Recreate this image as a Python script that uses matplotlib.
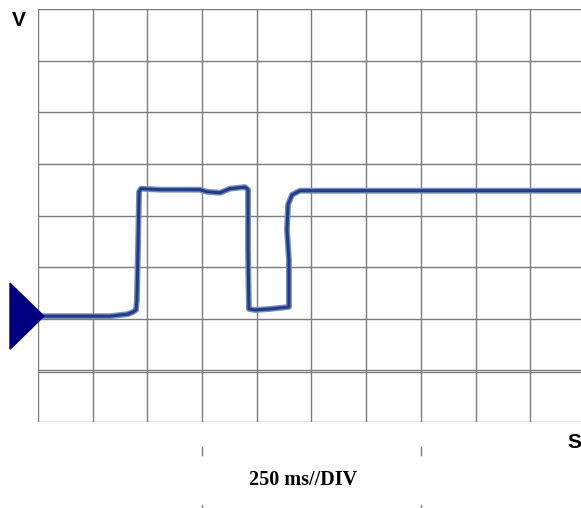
import matplotlib
matplotlib.use('Agg')
import matplotlib.pyplot as plt
from matplotlib.patches import Polygon

# scope trace, time in ms (250 ms per division), level in divisions
t_ms = [18, 169, 329, 411, 434, 448, 452, 457, 462, 471, 558, 672, 740, 772,
        832, 877, 946, 960, 960, 964, 992, 1060, 1106, 1147, 1147, 1138, 1143,
        1161, 1197, 1335, 1883, 2482]
level = [2.05, 2.05, 2.05, 2.09, 2.13, 2.17, 2.36, 3.33, 4.46, 4.52, 4.50,
         4.50, 4.50, 4.46, 4.44, 4.52, 4.55, 4.50, 3.33, 2.19, 2.17, 2.19,
         2.21, 2.23, 3.14, 3.72, 4.21, 4.40, 4.48, 4.48, 4.48, 4.48]

ms_per_div = 250
n_hdiv = 8
x_end = 2482
tick_divs = [3, 7]

fig = plt.figure(figsize=(5.81, 5.08), dpi=100)
ax = fig.add_axes([38/581, 86/508, 543/581, 413/508])
ax.set_xlim(0, x_end)
ax.set_ylim(0, n_hdiv)
ax.axis('off')

grid = '#7c7c7c'
# vertical grid lines
k = 0
while k * ms_per_div <= x_end:
    ax.axvline(k * ms_per_div, color=grid, lw=1.0, zorder=1)
    k += 1
# horizontal grid lines
for j in range(n_hdiv + 1):
    ax.axhline(j, color=grid, lw=1.0, zorder=1)
ax.axhline(0.96, color=grid, lw=1.0, zorder=1)  # doubled line in the scan

# trace: light speckled halo plus dark core
ax.plot(t_ms, level, color='#6f93b8', lw=4.2, solid_joinstyle='round', zorder=3)
ax.plot(t_ms, level, color='#26398a', lw=2.2, solid_joinstyle='round', zorder=4)

# ground reference marker
base = level[0]
tri = Polygon([(-128, base + 0.64), (27, base), (-128, base - 0.64)],
              closed=True, color='#000080', clip_on=False, zorder=5)
ax.add_patch(tri)

# small ticks under the screen
for d in tick_divs:
    ax.plot([d * ms_per_div] * 2, [-0.48, -0.64], color=grid, lw=1, clip_on=False)
    ax.plot([d * ms_per_div] * 2, [-1.6, -1.7], color=grid, lw=1, clip_on=False)

fig.text(19/581, 1 - 20/508, 'V', fontsize=15, fontweight='bold',
         family='Liberation Sans', ha='center', va='center')
fig.text(574/581, 1 - 442/508, 'S', fontsize=15, fontweight='bold',
         family='Liberation Sans', ha='center', va='center')
fig.text(303/581, 1 - 480/508, '250 ms//DIV', fontsize=14.5, fontweight='bold',
         family='Liberation Serif', ha='center', va='center')

fig.savefig('out.png', dpi=100)
